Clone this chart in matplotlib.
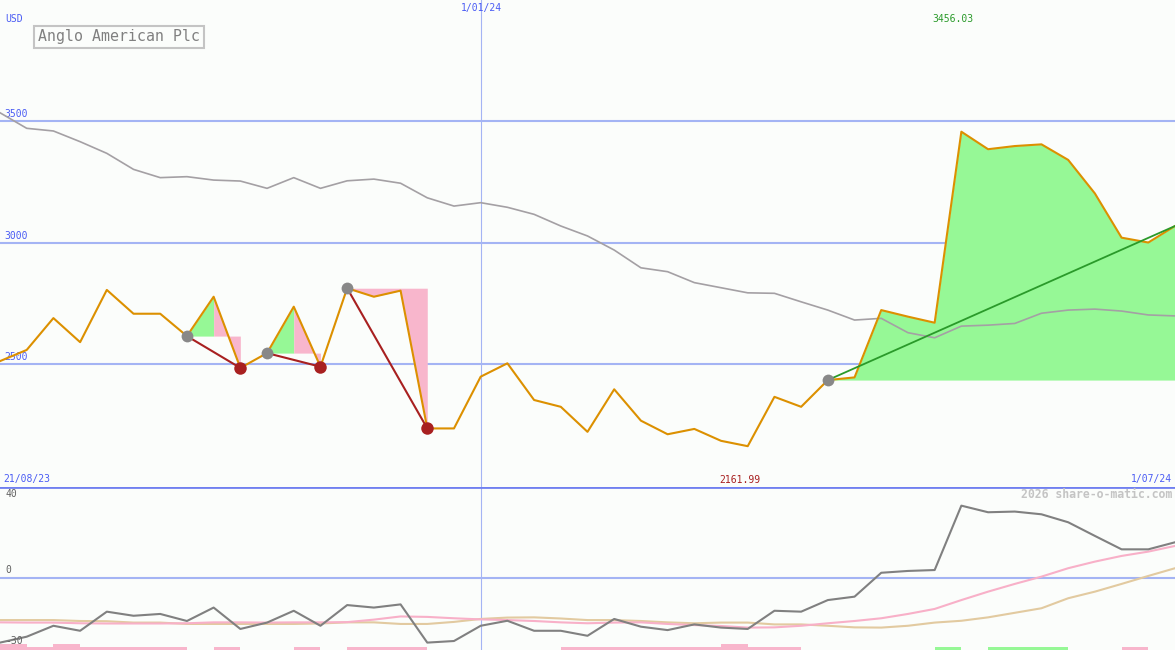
import numpy as np
import matplotlib
matplotlib.use("Agg")
import matplotlib.pyplot as plt

# weekly closes, 21/08/23 .. 1/07/24
price = [2512, 2558, 2689, 2590, 2805, 2707, 2707, 2615, 2777, 2484,
         2545, 2736, 2489, 2812, 2777, 2802, 2235, 2235, 2448, 2503,
         2352, 2324, 2221, 2396, 2267, 2211, 2233, 2184, 2161.99, 2365,
         2324, 2434, 2445, 2722, 2695, 2670, 3456.03, 3384, 3397, 3404,
         3340, 3202, 3020, 3000, 3068]

# long moving average (grey)
ma_long = [3534, 3470, 3459, 3415, 3367, 3301, 3267, 3271, 3257, 3253,
           3223, 3267, 3223, 3254, 3261, 3244, 3184, 3150, 3164, 3145,
           3116, 3068, 3027, 2969, 2896, 2880, 2835, 2814, 2793, 2791,
           2756, 2722, 2681, 2688, 2629, 2608, 2656, 2660, 2667, 2709,
           2722, 2726, 2718, 2702, 2698]

# lower panel indicator
momentum = [-28.4, -25.8, -21.0, -23.2, -14.8, -16.6, -15.8, -18.9, -13.0, -22.4,
            -19.6, -14.4, -21.0, -11.9, -13.0, -11.6, -28.4, -27.7, -21.0, -18.8,
            -23.2, -23.2, -25.4, -18.0, -21.4, -22.9, -20.4, -21.8, -22.4, -14.4,
            -14.8, -9.7, -8.2, 2.3, 3.1, 3.5, 31.8, 28.9, 29.2, 28.0,
            24.5, 18.5, 12.6, 12.6, 15.7]
mom_fast = [-19.5, -19.6, -19.6, -19.9, -20.0, -20.0, -20.0, -19.9, -19.5, -19.5,
            -19.6, -19.5, -19.5, -19.4, -18.3, -16.9, -17.1, -17.7, -18.2, -18.5,
            -18.9, -19.5, -19.9, -19.6, -19.5, -20.2, -20.7, -21.1, -21.8, -21.7,
            -21.0, -19.9, -18.9, -17.7, -15.8, -13.6, -9.7, -6.0, -2.6, 0.6,
            4.3, 7.2, 9.7, 11.6, 14.1]
mom_slow = [-18.5, -18.5, -18.5, -18.9, -19.0, -19.6, -19.6, -20.2, -20.2, -20.2,
            -20.2, -20.2, -20.0, -19.5, -19.5, -20.2, -20.2, -19.3, -18.0, -17.4,
            -17.3, -17.8, -18.5, -18.5, -18.9, -19.5, -19.9, -19.6, -19.6, -20.4,
            -20.4, -21.0, -21.7, -21.8, -21.0, -19.6, -18.8, -17.3, -15.3, -13.3,
            -8.9, -6.0, -2.6, 0.9, 4.3]
# weekly signal strip: -2/-1 pink, +1 green, 0 none
strip = [-2, -1, -2, -1, -1, -1, -1, 0, -1, 0,
         0, -1, 0, -1, -1, -1, 0, 0, 0, 0,
         0, -1, -1, -1, -1, -1, -1, -2, -1, -1,
         0, 0, 0, 0, 0, 1, 0, 1, 1, 1,
         0, 0, -1, 0]

# (high point, low point) pairs and the open rising signal
falls = [(7, 9), (10, 12), (13, 16)]
rise_start = 31

start_label = "21/08/23"
mid_label = "1/01/24"
end_label = "1/07/24"
mid_idx = 18

BG = "#fbfdfb"
GRID = "#a4b4f4"
BLUE_TXT = "#4a5cf4"
ORANGE = "#dc9000"
DARKRED = "#a82020"
GREEN = "#2a9a2a"
LGREEN = "#96f896"
PINK = "#f8b6cc"
mono = "DejaVu Sans Mono"

x = np.arange(len(price))
p = np.array(price, dtype=float)

fig = plt.figure(figsize=(11.75, 6.5), dpi=100, facecolor=BG)
ax = fig.add_axes([0, 163 / 650, 1, 487 / 650])
ax2 = fig.add_axes([0, 0, 1, 163 / 650])
for a in (ax, ax2):
    a.set_facecolor(BG)
    a.set_xlim(0, len(price) - 1)
    a.axis("off")
    a.axvline(mid_idx, color=GRID, lw=0.8, zorder=1)

ax.set_ylim(1994, 3998)
for lvl in (2500, 3000, 3500):
    ax.axhline(lvl, color=GRID, lw=1.5, zorder=1)
    ax.text(0.004, lvl + 8, str(lvl), transform=ax.get_yaxis_transform(),
            color=BLUE_TXT, fontsize=7, family=mono, va="bottom")

# falling patterns
for s, e in falls:
    base = p[s]
    pk = s + int(np.argmax(p[s:e + 1]))
    if pk > s:
        ax.fill_between(x[s:pk + 1], p[s:pk + 1], base, color=LGREEN, lw=0, zorder=2)
    ax.fill_between(x[pk:e + 1], p[pk:e + 1], base, color=PINK, lw=0, zorder=2)
    ax.plot([s, e], [p[s], p[e]], color=DARKRED, lw=1.5, zorder=4)

# open rising pattern
ax.fill_between(x[rise_start:], p[rise_start:], p[rise_start], color=LGREEN, lw=0, zorder=2)

ax.plot(x, ma_long, color="#a4a0a4", lw=1.2, zorder=3)
ax.plot(x, p, color=ORANGE, lw=1.5, zorder=5)
ax.plot([rise_start, x[-1]], [p[rise_start], p[-1]], color=GREEN, lw=1.3, zorder=6)

for s, e in falls:
    ax.plot(s, p[s], "o", color="#888888", ms=8.5, mec="none", zorder=7)
    ax.plot(e, p[e], "o", color=DARKRED, ms=9, mec="none", zorder=7)
ax.plot(rise_start, p[rise_start], "o", color="#888888", ms=8.5, mec="none", zorder=7)

# max / min labels
imax, imin = int(np.argmax(p)), int(np.argmin(p))
ax.text(imax - 0.3, 1.0 - 14 / 487, f"{p.max():.2f}", transform=ax.get_xaxis_transform(),
        color=GREEN, fontsize=7, family=mono, ha="center", va="top")
ax.text(imin - 0.3, 2 / 487, f"{p.min():.2f}", transform=ax.get_xaxis_transform(),
        color=DARKRED, fontsize=7, family=mono, ha="center", va="bottom")

# lower panel
ax2.set_ylim(-31.65, 40)
ax2.axhline(0, color=GRID, lw=1.5, zorder=1)
ax2.axhline(40, color="#7080f0", lw=2, zorder=1)
sc = 1.3
for i, v in enumerate(strip):
    if v == 0:
        continue
    ax2.bar(i, abs(v) * sc, bottom=-31.65, width=1.0, align="edge",
            color=PINK if v < 0 else LGREEN, lw=0, zorder=2)
ax2.plot(x, mom_slow, color="#e2caa0", lw=1.5, zorder=3)
ax2.plot(x, mom_fast, color="#f8b0c8", lw=1.5, zorder=3)
ax2.plot(x, momentum, color="#808080", lw=1.5, zorder=4)
for lvl, yy in ((40, 499), (0, 575), (-30, 646)):
    fig.text(5 / 1175, 1 - yy / 650, str(lvl), color="#606060", fontsize=7,
             family=mono, va="bottom")

# header / footer texts
fig.text(5 / 1175, 1 - 24 / 650, "USD", color=BLUE_TXT, fontsize=7, family=mono, va="bottom")
fig.text(481 / 1175, 1 - 13 / 650, mid_label, color=BLUE_TXT, fontsize=7, family=mono,
         ha="center", va="bottom")
fig.text(3 / 1175, 1 - 484 / 650, start_label, color=BLUE_TXT, fontsize=7, family=mono, va="bottom")
fig.text(1172 / 1175, 1 - 484 / 650, end_label, color=BLUE_TXT, fontsize=7, family=mono,
         ha="right", va="bottom")
fig.text(1172 / 1175, 1 - 501 / 650, "2026 share-o-matic.com", color="#c4c4c4", fontsize=8.3,
         family=mono, weight="bold", ha="right", va="bottom")
fig.text(38 / 1175, 1 - 37 / 650, "Anglo American Plc", color="#808080", fontsize=10.7,
         family=mono, va="center",
         bbox=dict(boxstyle="square,pad=0.25", fc=BG, ec="#c4c4c4", lw=1.5))

fig.savefig("out.png", dpi=100, facecolor=BG)
